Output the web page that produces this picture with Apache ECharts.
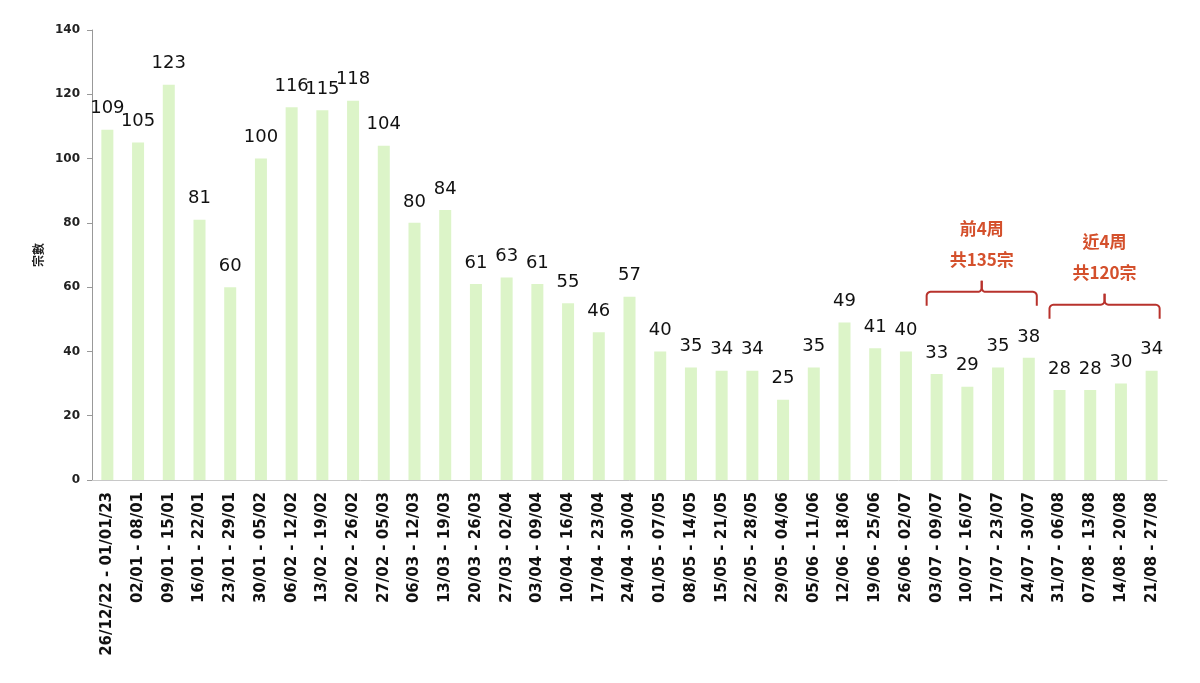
<!DOCTYPE html>
<html><head><meta charset="utf-8">
<script src="https://cdn.jsdelivr.net/npm/echarts@6/dist/echarts.min.js"></script>
<style>html,body{margin:0;padding:0;background:#fff}#c{width:1200px;height:683px}</style>
</head><body><div id="c"></div>
<script>
const categories = ["26/12/22 - 01/01/23","02/01 - 08/01","09/01 - 15/01","16/01 - 22/01","23/01 - 29/01","30/01 - 05/02","06/02 - 12/02","13/02 - 19/02","20/02 - 26/02","27/02 - 05/03","06/03 - 12/03","13/03 - 19/03","20/03 - 26/03","27/03 - 02/04","03/04 - 09/04","10/04 - 16/04","17/04 - 23/04","24/04 - 30/04","01/05 - 07/05","08/05 - 14/05","15/05 - 21/05","22/05 - 28/05","29/05 - 04/06","05/06 - 11/06","12/06 - 18/06","19/06 - 25/06","26/06 - 02/07","03/07 - 09/07","10/07 - 16/07","17/07 - 23/07","24/07 - 30/07","31/07 - 06/08","07/08 - 13/08","14/08 - 20/08","21/08 - 27/08"];
const cases = [109,105,123,81,60,100,116,115,118,104,80,84,61,63,61,55,46,57,40,35,34,34,25,35,49,41,40,33,29,35,38,28,28,30,34];
const yTicks = {min:0, max:140, interval:20};
const yName = "宗數";
const groups = [
  {from:27, to:30, line1:"前4周", line2:"共135宗"},
  {from:31, to:34, line1:"近4周", line2:"共120宗"}
];
const chart = echarts.init(document.getElementById('c'));
chart.setOption({
  animation:false,
  grid:{left:92,right:33,top:30,bottom:203,containLabel:false},
  xAxis:{type:'category',data:categories,
    axisLine:{lineStyle:{color:'#c8c8c8'}},axisTick:{show:false},
    axisLabel:{rotate:90,interval:0,color:'#111',fontSize:15,fontWeight:'bold',fontFamily:'DejaVu Sans',margin:12}},
  yAxis:{type:'value',min:yTicks.min,max:yTicks.max,interval:yTicks.interval,
    name:yName,nameLocation:'middle',nameGap:46,nameRotate:90,
    nameTextStyle:{fontSize:12,fontWeight:'bold',color:'#222',fontFamily:'Noto Sans CJK TC'},
    axisLine:{show:true,lineStyle:{color:'#999'}},axisTick:{show:true,length:5,lineStyle:{color:'#999'}},
    splitLine:{show:false},
    axisLabel:{color:'#222',fontSize:12,fontWeight:'bold',fontFamily:'DejaVu Sans',margin:12}},
  series:[{type:'bar',data:cases,barWidth:12,itemStyle:{color:'#dcf4c8'},
    label:{show:true,position:'top',distance:12,color:'#111',fontSize:18,fontFamily:'DejaVu Sans'}}]
});
const red='#b8322c', txt='#d4502c';
function arc(cx,cy,r,a0,a1){const p=[];for(let k=0;k<=6;k++){const a=a0+(a1-a0)*k/6;p.push([cx+r*Math.cos(a),cy+r*Math.sin(a)]);}return p;}
const g=[];
groups.forEach((gr)=>{
  const x1=chart.convertToPixel({xAxisIndex:0},gr.from)-10;
  const x2=chart.convertToPixel({xAxisIndex:0},gr.to)+8;
  const mx=(x1+x2)/2;
  let maxV=0; for(let k=gr.from;k<=gr.to;k++) maxV=Math.max(maxV,cases[k]);
  const yTop=chart.convertToPixel({yAxisIndex:0},maxV)-66;
  const yb=yTop+14, r=4, P=Math.PI;
  let pts=[[x1,yb]];
  pts=pts.concat(arc(x1+r,yTop+r,r,P,1.5*P));
  pts=pts.concat(arc(mx-r,yTop-r,r,0.5*P,0));
  pts.push([mx,yTop-11]);
  g.push({type:'polyline',shape:{points:pts},style:{stroke:red,lineWidth:2,fill:null}});
  let pts2=[[mx,yTop-11]];
  pts2=pts2.concat(arc(mx+r,yTop-r,r,P,0.5*P));
  pts2=pts2.concat(arc(x2-r,yTop+r,r,1.5*P,2*P));
  pts2.push([x2,yb]);
  g.push({type:'polyline',shape:{points:pts2},style:{stroke:red,lineWidth:2,fill:null}});
  g.push({type:'text',style:{text:gr.line1,x:mx,y:yTop-63,textAlign:'center',textVerticalAlign:'middle',fill:txt,fontSize:17,fontWeight:'bold',fontFamily:'Noto Sans CJK TC'}});
  g.push({type:'text',style:{text:gr.line2,x:mx,y:yTop-32,textAlign:'center',textVerticalAlign:'middle',fill:txt,fontSize:17,fontWeight:'bold',fontFamily:'Noto Sans CJK TC'}});
});
chart.setOption({graphic:g});
</script></body></html>
